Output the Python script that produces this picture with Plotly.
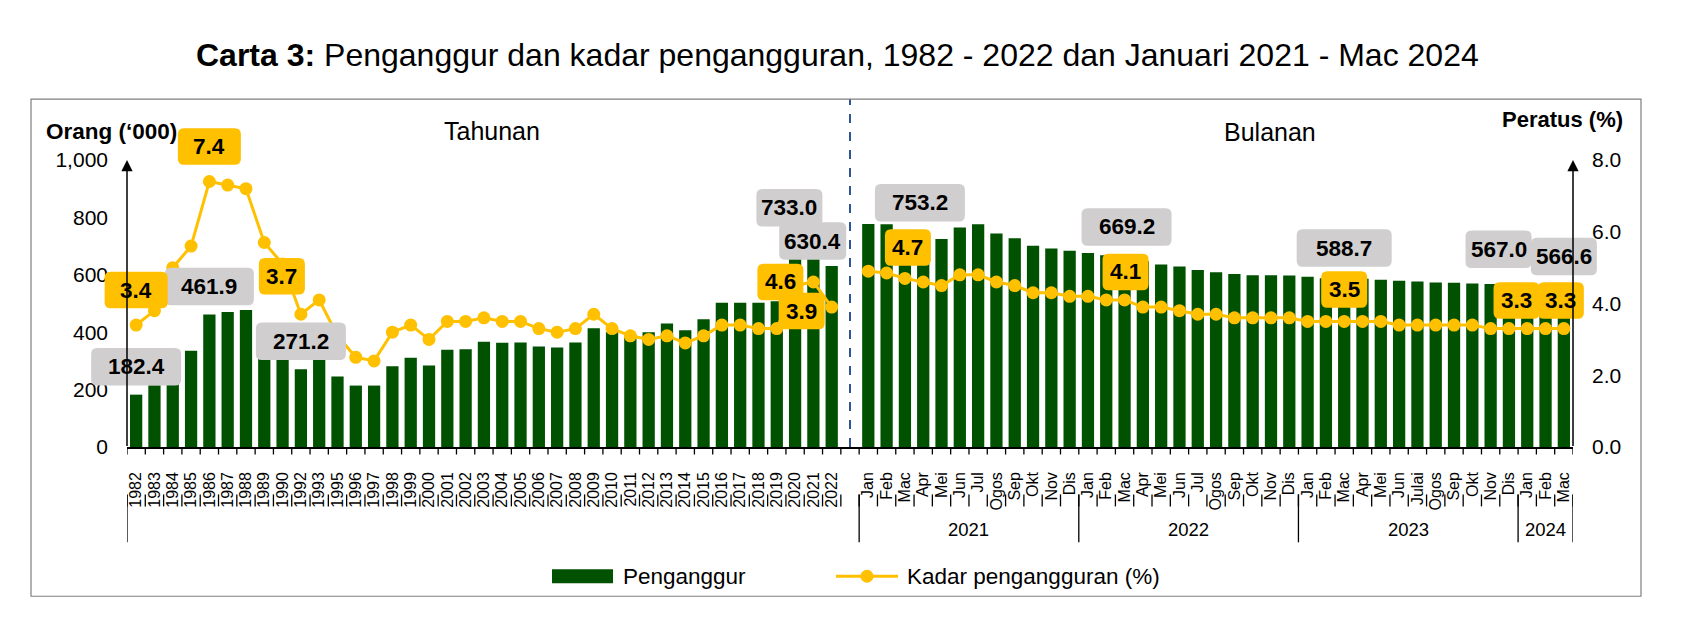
import plotly.graph_objects as go

# ---------------- data ----------------
annual_labels = ["1982", "1983", "1984", "1985", "1986", "1987", "1988", "1989", "1990",
                 "1992", "1993", "1995", "1996", "1997", "1998", "1999", "2000", "2001",
                 "2002", "2003", "2004", "2005", "2006", "2007", "2008", "2009", "2010",
                 "2011", "2012", "2013", "2014", "2015", "2016", "2017", "2018", "2019",
                 "2020", "2021", "2022"]
annual_unemployed = [182.4, 215.0, 290.0, 335.0, 461.9, 470.0, 477.0, 390.0, 357.0,
                     271.2, 310.0, 246.0, 214.0, 214.0, 281.0, 311.0, 284.0, 339.0,
                     341.0, 367.0, 363.0, 364.0, 350.0, 347.0, 364.0, 414.0, 400.0,
                     392.0, 400.0, 430.0, 407.0, 445.0, 503.0, 503.0, 503.0, 508.0,
                     711.0, 733.0, 630.4]
annual_rate = [3.4, 3.8, 5.0, 5.6, 7.4, 7.3, 7.2, 5.7, 5.1,
               3.7, 4.1, 3.1, 2.5, 2.4, 3.2, 3.4, 3.0, 3.5,
               3.5, 3.6, 3.5, 3.5, 3.3, 3.2, 3.3, 3.7, 3.3,
               3.1, 3.0, 3.1, 2.9, 3.1, 3.4, 3.4, 3.3, 3.3,
               4.5, 4.6, 3.9]

month_labels = ["Jan", "Feb", "Mac", "Apr", "Mei", "Jun", "Jul", "Ogos", "Sep", "Okt", "Nov", "Dis",
                "Jan", "Feb", "Mac", "Apr", "Mei", "Jun", "Jul", "Ogos", "Sep", "Okt", "Nov", "Dis",
                "Jan", "Feb", "Mac", "Apr", "Mei", "Jun", "Julai", "Ogos", "Sep", "Okt", "Nov", "Dis",
                "Jan", "Feb", "Mac"]
month_years = ["2021"] * 12 + ["2022"] * 12 + ["2023"] * 12 + ["2024"] * 3
monthly_unemployed = [777.0, 776.0, 753.2, 745.0, 725.0, 765.0, 776.0, 744.0, 727.0, 701.0, 692.0, 684.0,
                      676.0, 668.0, 669.2, 647.0, 635.5, 628.5, 617.0, 609.0, 603.0, 598.6, 598.6, 597.5,
                      592.8, 588.2, 588.7, 586.0, 582.5, 579.0, 577.0, 573.0, 572.0, 570.0, 568.0, 567.5,
                      567.3, 567.0, 566.6]
monthly_rate = [4.9, 4.85, 4.7, 4.6, 4.5, 4.8, 4.8, 4.6, 4.5, 4.3, 4.3, 4.2,
                4.2, 4.1, 4.1, 3.9, 3.9, 3.8, 3.7, 3.7, 3.6, 3.6, 3.6, 3.6,
                3.5, 3.5, 3.5, 3.5, 3.5, 3.4, 3.4, 3.4, 3.4, 3.4, 3.3, 3.3,
                3.3, 3.3, 3.3]

series_names = ["Penganggur", "Kadar pengangguran (%)"]

# categories that carry value labels
labelled = ["1982", "1986", "1992", "2021", "2022",
            "2021-Mac", "2022-Mac", "2023-Mac", "2024-Feb", "2024-Mac"]

# ---------------- styling / layout parameters ----------------
FONT = "Liberation Sans, Arial, sans-serif"
GREEN = "#005100"
GOLD = "#FFC000"
GREY_BOX = "#D0CECE"
PAGE_OFF = 8                      # browser body margin
W, H = 1682 - PAGE_OFF, 620 - PAGE_OFF
ML, MR, MT, MB = 119, 109, 152, 172.5
PW, PH = W - ML - MR, H - MT - MB
Y1MAX, Y2MAX = 1000, 8

def xp(px):                        # page pixel -> paper x
    return (px - PAGE_OFF - ML) / PW

def yp(py):                        # page pixel -> paper y
    return (PAGE_OFF + MT + PH - py) / PH

# label placement offsets (px): dx, dy (up), box width
count_place = [(0, 28, 90), (0, 28, 89), (0, 28, 90), (-24, 29, 66), (-19, 25, 67),
               (15, 28, 90), (2, 28, 90), (0, 30, 95), (-47, 35, 66), (0, 28, 66)]
rate_place = [(0, 35, 63), (0, 35, 63), (-19, 38, 46), (-33, 0, 46), (-30, -4, 46),
              (3, 31, 46), (1, 28, 46), (0, 32, 46), (-29, 28, 46), (-3, 28, 46)]

# ---------------- assemble ----------------
n_a = len(annual_labels)
keys = annual_labels + ["gap"] + [f"{y}-{m}" for y, m in zip(month_years, month_labels)]
N = len(keys)
x_idx = list(range(N))
ticktext = annual_labels + [""] + month_labels
bars = annual_unemployed + [None] + monthly_unemployed
rates = annual_rate + [None] + monthly_rate
gap_idx = n_a

fig = go.Figure()
fig.add_trace(go.Bar(x=x_idx, y=bars, name=series_names[0], marker_color=GREEN,
                     marker_line_width=0, yaxis="y"))
fig.add_trace(go.Scatter(x=x_idx, y=rates, name=series_names[1], mode="lines+markers",
                         line=dict(color=GOLD, width=3), marker=dict(color=GOLD, size=13),
                         connectgaps=False, yaxis="y2", cliponaxis=False))

shapes = []
annotations = []
LINE = dict(color="black", width=1.3)

# x-axis ticks at category boundaries
for i in range(N + 1):
    b = i - 0.5
    shapes.append(dict(type="line", xref="x", yref="paper", x0=b, x1=b, y0=0, y1=-7.5 / PH, line=LINE))
    shapes.append(dict(type="line", xref="x", yref="paper", x0=b, x1=b, y0=yp(495), y1=yp(507), line=LINE))

# group separators
group_bounds = [-0.5]
for i, m in enumerate(month_labels):
    if m == "Jan":
        group_bounds.append(gap_idx + 1 + i - 0.5)
group_bounds.append(N - 0.5)
for b in group_bounds:
    shapes.append(dict(type="line", xref="x", yref="paper", x0=b, x1=b, y0=yp(495), y1=yp(543), line=LINE))

# year group labels
years_unique = []
for y in month_years:
    if y not in years_unique:
        years_unique.append(y)
for y in years_unique:
    idxs = [gap_idx + 1 + i for i, yy in enumerate(month_years) if yy == y]
    annotations.append(dict(x=(idxs[0] + idxs[-1]) / 2, y=yp(530), xref="x", yref="paper",
                            xanchor="center", yanchor="middle", text=y, showarrow=False,
                            font=dict(size=18.5, color="black", family=FONT)))

# dashed divider
shapes.append(dict(type="line", xref="x", yref="paper", x0=gap_idx, x1=gap_idx, y0=0, y1=yp(99),
                   line=dict(color="#2F5597", width=2, dash="dash")))
# frame
shapes.append(dict(type="rect", xref="paper", yref="paper", x0=xp(31), x1=xp(1641),
                   y0=yp(597), y1=yp(99), line=dict(color="#7F7F7F", width=1.2)))

def rrect(cx, cy, w, h, r=6):
    x0, x1, y0, y1 = cx - w / 2, cx + w / 2, cy - h / 2, cy + h / 2
    return (f"M{x0 + r},{y0} L{x1 - r},{y0} Q{x1},{y0} {x1},{y0 + r} L{x1},{y1 - r} "
            f"Q{x1},{y1} {x1 - r},{y1} L{x0 + r},{y1} Q{x0},{y1} {x0},{y1 - r} "
            f"L{x0},{y0 + r} Q{x0},{y0} {x0 + r},{y0} Z")

def add_label(key, value, yref, ymax, dx, dy, w, h, color):
    i = keys.index(key)
    shapes.append(dict(type="path", xref="paper", yref="paper", xsizemode="pixel", ysizemode="pixel",
                       xanchor=(i + 0.5) / N, yanchor=value / ymax, path=rrect(dx, dy, w, h),
                       fillcolor=color, line=dict(width=0), layer="above"))
    annotations.append(dict(x=i, y=value, xref="x", yref=yref, xshift=dx, yshift=dy,
                            xanchor="center", yanchor="middle",
                            text=f"<b>{value:.1f}</b>", showarrow=False,
                            font=dict(size=22.5, color="black", family=FONT)))

for key, (dx, dy, w) in zip(labelled, count_place):
    add_label(key, bars[keys.index(key)], "y", Y1MAX, dx, dy, w, 37.5, GREY_BOX)
for key, (dx, dy, w) in zip(labelled, rate_place):
    add_label(key, rates[keys.index(key)], "y2", Y2MAX, dx, dy, w, 36.5, GOLD)

# axis arrows
for xpos in (0, 1):
    annotations.append(dict(x=xpos, y=1, xref="paper", yref="paper", ax=0, ay=PH, text="",
                            showarrow=True, arrowhead=2, arrowsize=1.5, arrowwidth=1.5,
                            arrowcolor="black", standoff=0))

# custom legend
shapes.append(dict(type="rect", xref="paper", yref="paper", x0=xp(552), x1=xp(613),
                   y0=yp(584), y1=yp(570), fillcolor=GREEN, line=dict(width=0)))
shapes.append(dict(type="line", xref="paper", yref="paper", x0=xp(836), x1=xp(898),
                   y0=yp(577), y1=yp(577), line=dict(color=GOLD, width=3)))
shapes.append(dict(type="circle", xref="paper", yref="paper", xsizemode="pixel", ysizemode="pixel",
                   xanchor=xp(867), yanchor=yp(577), x0=-6.5, x1=6.5, y0=-6.5, y1=6.5,
                   fillcolor=GOLD, line=dict(width=0)))
annotations.append(dict(x=xp(621), y=yp(577), xref="paper", yref="paper", xanchor="left",
                        yanchor="middle", text=series_names[0], showarrow=False,
                        font=dict(size=22.5, color="black", family=FONT)))
annotations.append(dict(x=xp(905), y=yp(577), xref="paper", yref="paper", xanchor="left",
                        yanchor="middle", text=series_names[1], showarrow=False,
                        font=dict(size=22.5, color="black", family=FONT)))

# texts
annotations += [
    dict(x=xp(837), y=yp(55), xref="paper", yref="paper", xanchor="center", yanchor="middle",
         showarrow=False,
         text="<b>Carta 3:</b> Penganggur dan kadar pengangguran, 1982 - 2022 dan Januari 2021 - Mac 2024",
         font=dict(size=32, color="black", family=FONT)),
    dict(x=xp(44), y=yp(131), xref="paper", yref="paper", xanchor="left", yanchor="middle",
         showarrow=False, text="<b>Orang (‘000)</b>", font=dict(size=22.5, color="black", family=FONT)),
    dict(x=xp(1625), y=yp(119), xref="paper", yref="paper", xanchor="right", yanchor="middle",
         showarrow=False, text="<b>Peratus (%)</b>", font=dict(size=22, color="black", family=FONT)),
    dict(x=xp(492), y=yp(131), xref="paper", yref="paper", xanchor="center", yanchor="middle",
         showarrow=False, text="Tahunan", font=dict(size=25, color="black", family=FONT)),
    dict(x=xp(1270), y=yp(132), xref="paper", yref="paper", xanchor="center", yanchor="middle",
         showarrow=False, text="Bulanan", font=dict(size=25, color="black", family=FONT)),
]

fig.update_layout(
    width=W, height=H,
    margin=dict(l=ML, r=MR, t=MT, b=MB, autoexpand=False),
    paper_bgcolor="white", plot_bgcolor="white",
    font=dict(family=FONT, color="black"),
    bargap=0.33,
    showlegend=False,
    xaxis=dict(range=[-0.5, N - 0.5], tickmode="array", tickvals=x_idx, ticktext=ticktext,
               tickangle=-90, ticks="", showline=True, linecolor="black", linewidth=1.5,
               showgrid=False, zeroline=False, ticklabelstandoff=17,
               tickfont=dict(size=16, color="black", family=FONT)),
    yaxis=dict(range=[0, Y1MAX], tickmode="array", tickvals=[0, 200, 400, 600, 800, 1000],
               ticktext=["0", "200", "400", "600", "800", "1,000"], showgrid=False, zeroline=False,
               showline=False, ticks="", ticklabelstandoff=18,
               tickfont=dict(size=21, color="black", family=FONT)),
    yaxis2=dict(range=[0, Y2MAX], overlaying="y", side="right", tickmode="linear", tick0=0, dtick=2,
                tickformat=".1f", showgrid=False, zeroline=False, showline=False, ticks="",
                ticklabelstandoff=18, tickfont=dict(size=21, color="black", family=FONT)),
    shapes=shapes,
    annotations=annotations,
)

fig.write_html("out.html")
